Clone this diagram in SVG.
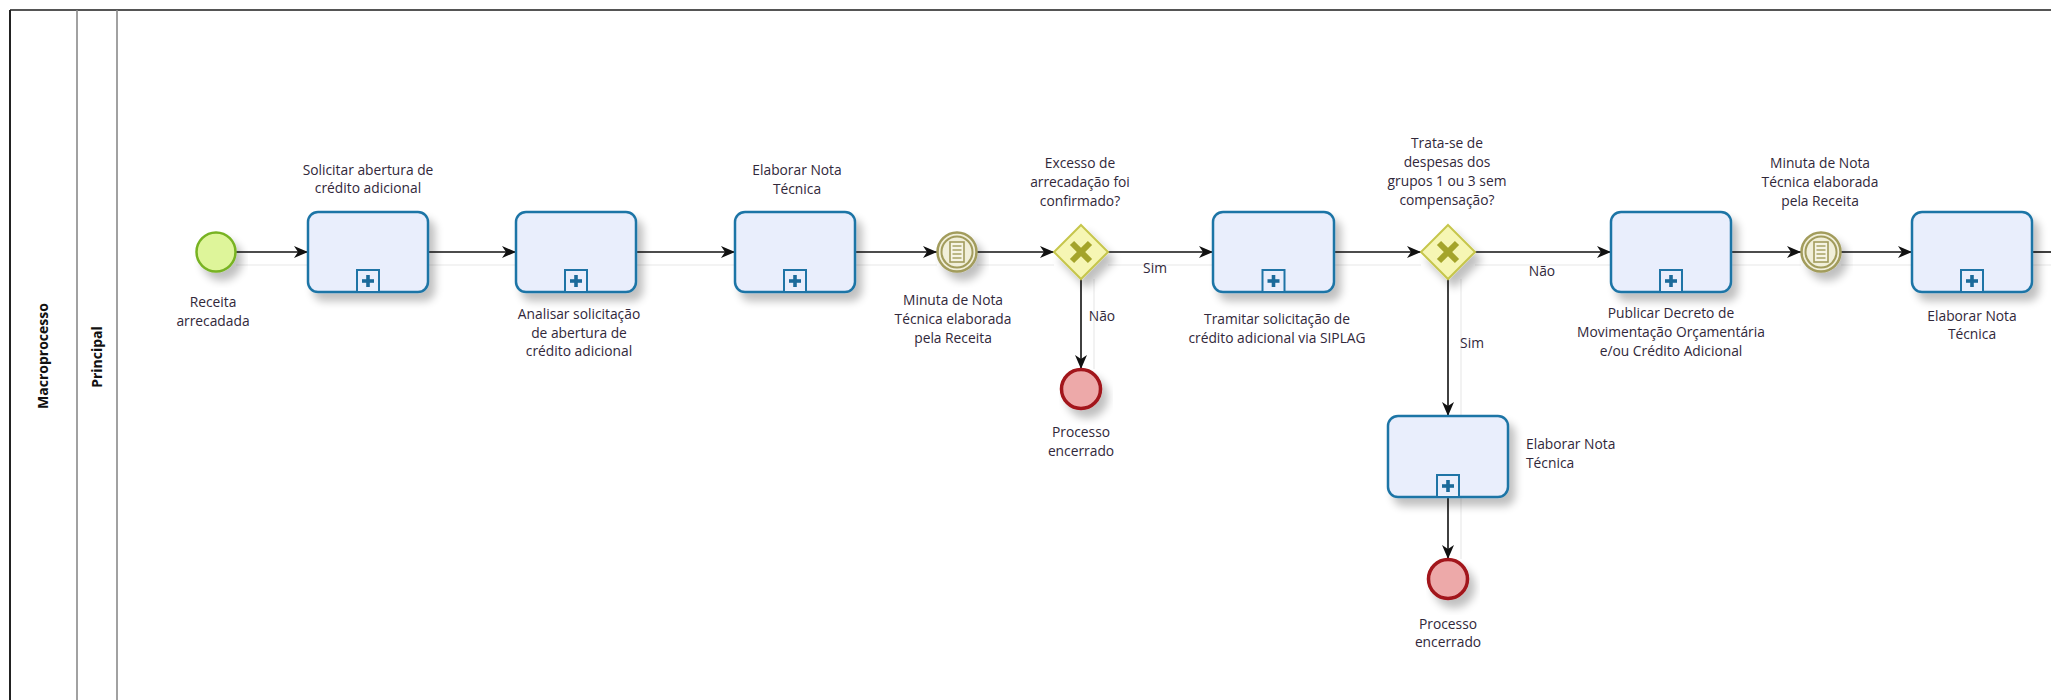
<svg xmlns="http://www.w3.org/2000/svg" width="2051" height="700" viewBox="0 0 2051 700">
<style>
  text { font-family: "Open Sans", "Noto Sans", "Liberation Sans", sans-serif; font-size: 13.8px; fill: #31283a; }
  .lbl { text-anchor: middle; }
  .lane { font-size: 14px; font-weight: bold; fill: #111; text-anchor: middle; }
  .task { fill: #e9eefc; stroke: #1f74a6; stroke-width: 2.5; }
  .mk { fill: #e9eefc; stroke: #1f74a6; stroke-width: 2; }
  .plus { stroke: #1b6a9a; stroke-width: 3.6; }
  .conn { fill: none; stroke: #111; stroke-width: 1.6; }
  .shadowline { fill: none; stroke: #efefef; stroke-width: 1.6; }
  .gw { fill: #f6f6b4; stroke: #c6c64c; stroke-width: 2; }
  .gwx { stroke: #a4a42a; stroke-width: 6; }
  .ie { fill: #f1efd9; stroke: #a29c5c; stroke-width: 2.5; }
  .iein { fill: none; stroke: #a29c5c; stroke-width: 2; }
  .doc { fill: #f6f4e4; stroke: #a29c5c; stroke-width: 1.6; }
  .docl { stroke: #a29c5c; stroke-width: 1.4; }
  .start { fill: #def59a; stroke: #78b324; stroke-width: 2.5; }
  .end { fill: #eda9a9; stroke: #a2141a; stroke-width: 3.5; }
</style>
<defs>
  <marker id="arr" viewBox="0 0 14 12" refX="14" refY="6" markerWidth="14" markerHeight="12" markerUnits="userSpaceOnUse" orient="auto">
    <path d="M0,0 L14,6 L0,12 L4,6 Z" fill="#111"/>
  </marker>
  <filter id="sh" x="-20%" y="-20%" width="150%" height="160%">
    <feGaussianBlur in="SourceAlpha" stdDeviation="4"/>
    <feOffset dx="6" dy="8" result="b"/>
    <feComponentTransfer><feFuncA type="linear" slope="0.25"/></feComponentTransfer>
    <feMerge><feMergeNode/><feMergeNode in="SourceGraphic"/></feMerge>
  </filter>
  <g id="plusmk">
    <rect class="mk" x="-11" y="-22" width="22" height="22"/>
    <line class="plus" x1="-6" y1="-11" x2="6" y2="-11"/>
    <line class="plus" x1="0" y1="-17" x2="0" y2="-5"/>
  </g>
  <g id="docicon">
    <rect class="doc" x="-7" y="-10" width="14" height="20"/>
    <line class="docl" x1="-4.5" y1="-6" x2="4.5" y2="-6"/>
    <line class="docl" x1="-4.5" y1="-2" x2="4.5" y2="-2"/>
    <line class="docl" x1="-4.5" y1="2" x2="4.5" y2="2"/>
    <line class="docl" x1="-4.5" y1="6" x2="4.5" y2="6"/>
  </g>
</defs>
<rect width="2051" height="700" fill="#ffffff"/>

<g id="pool">
  <line x1="10" y1="10" x2="2051" y2="10" stroke="#555" stroke-width="2"/>
  <line x1="10" y1="10" x2="10" y2="700" stroke="#222" stroke-width="2"/>
  <line x1="77" y1="10" x2="77" y2="700" stroke="#8a8a8a" stroke-width="1.6"/>
  <line x1="117" y1="10" x2="117" y2="700" stroke="#8a8a8a" stroke-width="1.6"/>
  <text class="lane" transform="translate(48,356) rotate(-90)">Macroprocesso</text>
  <text class="lane" transform="translate(102,357) rotate(-90)">Principal</text>
</g>

<g id="connectors">
  <g transform="translate(0,13)">
    <path class="shadowline" d="M236,252 H308 M428,252 H516 M636,252 H735 M855,252 H937 M977,252 H1054 M1108,252 H1213 M1333,252 H1421 M1475,252 H1611 M1731,252 H1801 M1841,252 H1912 M2032,252 H2051"/>
  </g>
  <path class="shadowline" d="M1094,279 V369 M1461,279 V416 M1461,496 V559"/>
  <path class="conn" marker-end="url(#arr)" d="M236,252 H308"/>
  <path class="conn" marker-end="url(#arr)" d="M428,252 H516"/>
  <path class="conn" marker-end="url(#arr)" d="M636,252 H735"/>
  <path class="conn" marker-end="url(#arr)" d="M855,252 H937"/>
  <path class="conn" marker-end="url(#arr)" d="M977,252 H1054"/>
  <path class="conn" marker-end="url(#arr)" d="M1108,252 H1213"/>
  <path class="conn" marker-end="url(#arr)" d="M1081,279 V369"/>
  <path class="conn" marker-end="url(#arr)" d="M1334,252 H1421"/>
  <path class="conn" marker-end="url(#arr)" d="M1475,252 H1611"/>
  <path class="conn" marker-end="url(#arr)" d="M1448,279 V416"/>
  <path class="conn" marker-end="url(#arr)" d="M1731,252 H1801"/>
  <path class="conn" marker-end="url(#arr)" d="M1841,252 H1912"/>
  <path class="conn" d="M2032,252 H2060"/>
  <path class="conn" marker-end="url(#arr)" d="M1448,497 V559"/>
  <text class="lbl" x="1155" y="273">Sim</text>
  <text class="lbl" x="1102" y="321">Não</text>
  <text class="lbl" x="1542" y="276">Não</text>
  <text class="lbl" x="1472" y="348">Sim</text>
</g>

<g id="start">
  <circle class="start" cx="216" cy="252" r="19.5" filter="url(#sh)"/>
  <text class="lbl" x="213" y="307">Receita</text>
  <text class="lbl" x="213" y="326">arrecadada</text>
</g>

<g id="task1">
  <rect class="task" x="308" y="212" width="120" height="80" rx="10" filter="url(#sh)"/>
  <use href="#plusmk" x="368" y="292"/>
  <text class="lbl" x="368" y="175">Solicitar abertura de</text>
  <text class="lbl" x="368" y="193">crédito adicional</text>
</g>

<g id="task2">
  <rect class="task" x="516" y="212" width="120" height="80" rx="10" filter="url(#sh)"/>
  <use href="#plusmk" x="576" y="292"/>
  <text class="lbl" x="579" y="319">Analisar solicitação</text>
  <text class="lbl" x="579" y="338">de abertura de</text>
  <text class="lbl" x="579" y="356">crédito adicional</text>
</g>

<g id="task3">
  <rect class="task" x="735" y="212" width="120" height="80" rx="10" filter="url(#sh)"/>
  <use href="#plusmk" x="795" y="292"/>
  <text class="lbl" x="797" y="175">Elaborar Nota</text>
  <text class="lbl" x="797" y="194">Técnica</text>
</g>

<g id="event1">
  <circle class="ie" cx="957" cy="252" r="19.5" filter="url(#sh)"/>
  <circle class="iein" cx="957" cy="252" r="15.5"/>
  <use href="#docicon" x="957" y="252"/>
  <text class="lbl" x="953" y="305">Minuta de Nota</text>
  <text class="lbl" x="953" y="324">Técnica elaborada</text>
  <text class="lbl" x="953" y="343">pela Receita</text>
</g>

<g id="gateway1">
  <path class="gw" d="M1081,225 L1108,252 L1081,279 L1054,252 Z" filter="url(#sh)"/>
  <line class="gwx" x1="1072" y1="243" x2="1090" y2="261"/>
  <line class="gwx" x1="1090" y1="243" x2="1072" y2="261"/>
  <text class="lbl" x="1080" y="168">Excesso de</text>
  <text class="lbl" x="1080" y="187">arrecadação foi</text>
  <text class="lbl" x="1080" y="206">confirmado?</text>
</g>

<g id="end1">
  <circle class="end" cx="1081" cy="389" r="19.5" filter="url(#sh)"/>
  <text class="lbl" x="1081" y="437">Processo</text>
  <text class="lbl" x="1081" y="456">encerrado</text>
</g>

<g id="task4">
  <rect class="task" x="1213" y="212" width="121" height="80" rx="10" filter="url(#sh)"/>
  <use href="#plusmk" x="1273.5" y="292"/>
  <text class="lbl" x="1277" y="324">Tramitar solicitação de</text>
  <text class="lbl" x="1277" y="343">crédito adicional via SIPLAG</text>
</g>

<g id="gateway2">
  <path class="gw" d="M1448,225 L1475,252 L1448,279 L1421,252 Z" filter="url(#sh)"/>
  <line class="gwx" x1="1439" y1="243" x2="1457" y2="261"/>
  <line class="gwx" x1="1457" y1="243" x2="1439" y2="261"/>
  <text class="lbl" x="1447" y="148">Trata-se de</text>
  <text class="lbl" x="1447" y="167">despesas dos</text>
  <text class="lbl" x="1447" y="186">grupos 1 ou 3 sem</text>
  <text class="lbl" x="1447" y="205">compensação?</text>
</g>

<g id="task7">
  <rect class="task" x="1388" y="416" width="120" height="81" rx="10" filter="url(#sh)"/>
  <use href="#plusmk" x="1448" y="497"/>
  <text x="1526" y="449">Elaborar Nota</text>
  <text x="1526" y="468">Técnica</text>
</g>

<g id="end2">
  <circle class="end" cx="1448" cy="579" r="19.5" filter="url(#sh)"/>
  <text class="lbl" x="1448" y="629">Processo</text>
  <text class="lbl" x="1448" y="647">encerrado</text>
</g>

<g id="task5">
  <rect class="task" x="1611" y="212" width="120" height="80" rx="10" filter="url(#sh)"/>
  <use href="#plusmk" x="1671" y="292"/>
  <text class="lbl" x="1671" y="318">Publicar Decreto de</text>
  <text class="lbl" x="1671" y="337">Movimentação Orçamentária</text>
  <text class="lbl" x="1671" y="356">e/ou Crédito Adicional</text>
</g>

<g id="event2">
  <circle class="ie" cx="1821" cy="252" r="19.5" filter="url(#sh)"/>
  <circle class="iein" cx="1821" cy="252" r="15.5"/>
  <use href="#docicon" x="1821" y="252"/>
  <text class="lbl" x="1820" y="168">Minuta de Nota</text>
  <text class="lbl" x="1820" y="187">Técnica elaborada</text>
  <text class="lbl" x="1820" y="206">pela Receita</text>
</g>

<g id="task6">
  <rect class="task" x="1912" y="212" width="120" height="80" rx="10" filter="url(#sh)"/>
  <use href="#plusmk" x="1972" y="292"/>
  <text class="lbl" x="1972" y="321">Elaborar Nota</text>
  <text class="lbl" x="1972" y="339">Técnica</text>
</g>
</svg>
